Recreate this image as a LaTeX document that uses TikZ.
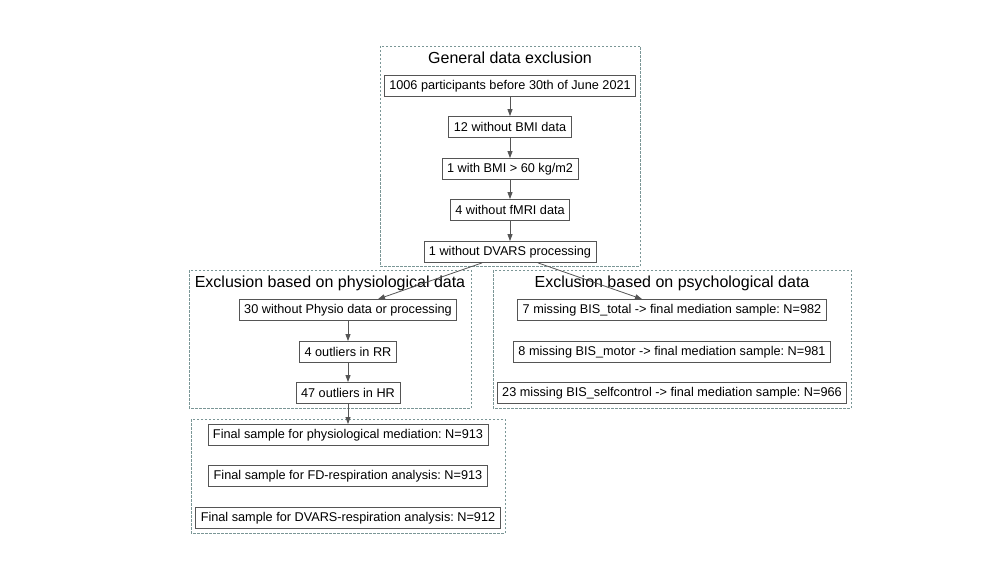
\documentclass[tikz,border=0pt]{standalone}
\usepackage{fontspec}
\setmainfont{Liberation Sans}
\usetikzlibrary{arrows.meta}
\definecolor{boxgray}{HTML}{555555}
\definecolor{clustergray}{HTML}{7A9696}
\frenchspacing
\tikzset{
    box/.style={draw=boxgray, line width=0.8pt, minimum height=21pt, inner xsep=5pt, inner ysep=0pt, font=\fontsize{12.7}{15}\selectfont},
    cluster/.style={draw=clustergray, line width=0.8pt, dash pattern=on 2.5pt off 1.5pt},
    title/.style={font=\fontsize{16}{19}\selectfont, inner sep=0pt},
    edge/.style={draw=boxgray, line width=0.8pt, -{Triangle[length=7pt,width=5pt]}}
}
\begin{document}
\begin{tikzpicture}[x=1pt, y=-1pt]
    \useasboundingbox (0,0) rectangle (992,580);

    % Clusters
    \draw[cluster] (380,46) rectangle (640,266);
    \draw[cluster] (189,270) rectangle (471,408);
    \draw[cluster] (493,270) rectangle (851,408);
    \draw[cluster] (191,419) rectangle (505,533);

    % Cluster titles
    \node[title] (tgen) at (510,58) {General data exclusion};
    \node[title] (tphys) at (330,283) {Exclusion based on physiological data};
    \node[title] (tpsy) at (672,283) {Exclusion based on psychological data};

    % General data exclusion
    \node[box] (n1) at (510,86) {1006 participants before 30th of June 2021};
    \node[box] (n2) at (510,127) {12 without BMI data};
    \node[box] (n3) at (510,169) {1 with BMI > 60 kg/m2};
    \node[box] (n4) at (510,210) {4 without fMRI data};
    \node[box] (n5) at (510,252) {1 without DVARS processing};

    % Physiological data
    \node[box] (p1) at (348,310) {30 without Physio data or processing};
    \node[box] (p2) at (348,352) {4 outliers in RR};
    \node[box] (p3) at (348,393) {47 outliers in HR};

    % Psychological data
    \node[box] (q1) at (672,310) {7 missing BIS\_total -> final mediation sample: N=982};
    \node[box] (q2) at (672,352) {8 missing BIS\_motor -> final mediation sample: N=981};
    \node[box] (q3) at (672,393) {23 missing BIS\_selfcontrol -> final mediation sample: N=966};

    % Final samples
    \node[box] (f1) at (348,435) {Final sample for physiological mediation: N=913};
    \node[box] (f2) at (348,476) {Final sample for FD-respiration analysis: N=913};
    \node[box] (f3) at (348,518) {Final sample for DVARS-respiration analysis: N=912};

    % Edges
    \draw[edge] (n1) -- (n2);
    \draw[edge] (n2) -- (n3);
    \draw[edge] (n3) -- (n4);
    \draw[edge] (n4) -- (n5);
    \draw[edge] ([xshift=-28]n5.south) -- ([xshift=30]p1.north);
    \draw[edge] ([xshift=28]n5.south) -- ([xshift=-30]q1.north);
    \draw[edge] (p1) -- (p2);
    \draw[edge] (p2) -- (p3);
    \draw[edge] (p3) -- (f1);
\end{tikzpicture}
\end{document}
